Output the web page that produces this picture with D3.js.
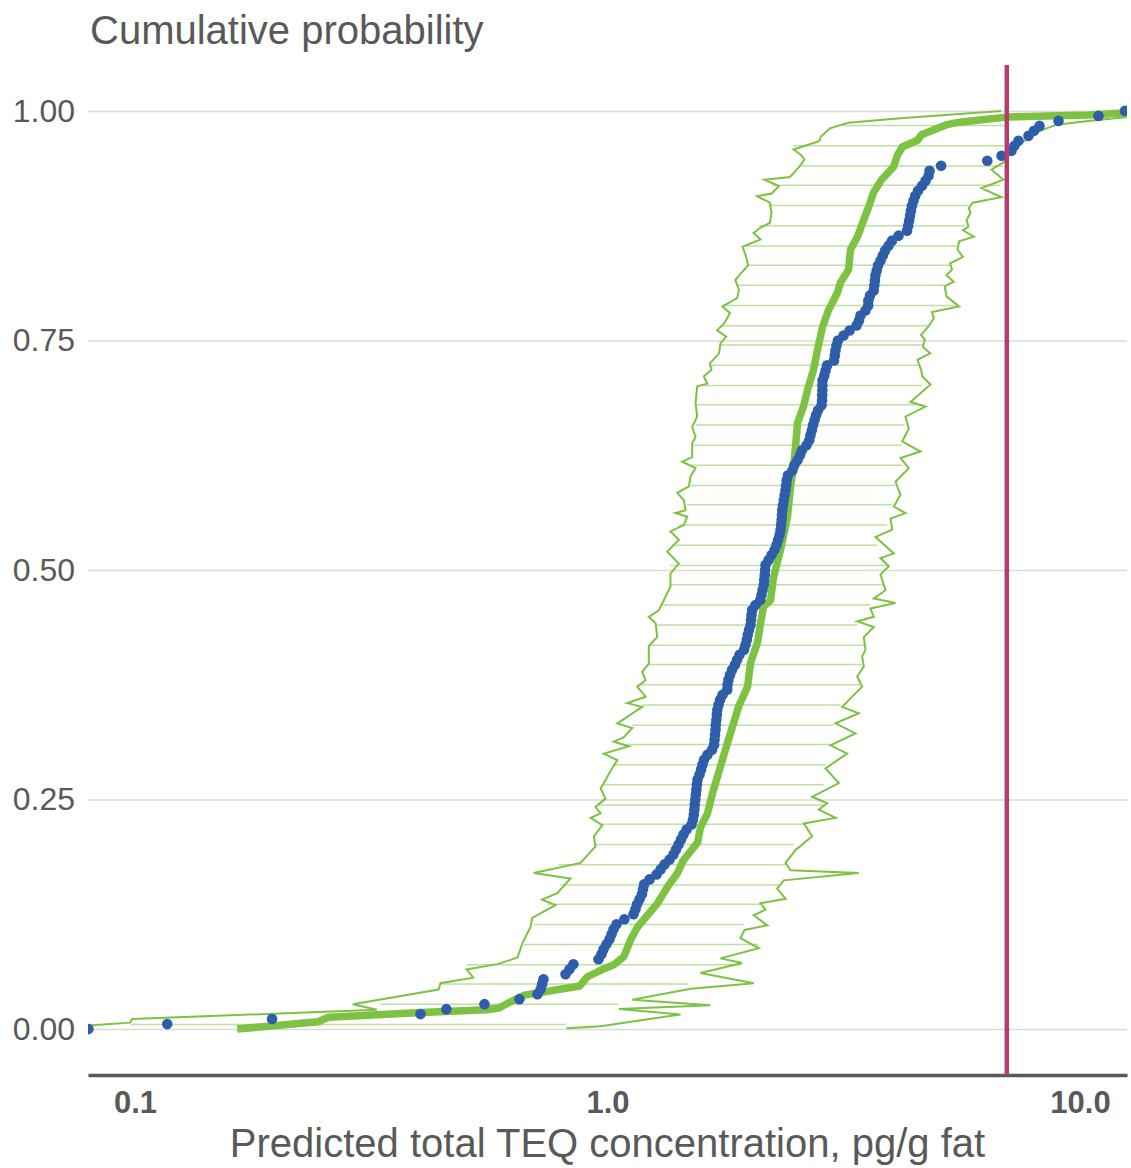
<!DOCTYPE html>
<html>
<head>
<meta charset="utf-8">
<script src="https://cdn.jsdelivr.net/npm/d3@7"></script>
<style>
  body { margin: 0; background: #fff; }
  svg { display: block; font-family: "Liberation Sans", Arial, sans-serif; }
</style>
</head>
<body>
<svg id="chart"></svg>
<script>
// observed concentrations, sorted (pg/g fat) - plotted as empirical cumulative probability
const observed = [
  0.0797, 0.117, 0.195, 0.402, 0.456, 0.549, 0.651, 0.711, 0.722, 0.727,
  0.732, 0.815, 0.831, 0.847, 0.957, 0.971, 0.981, 0.995, 1.010, 1.020,
  1.030, 1.045, 1.086, 1.135, 1.146, 1.155, 1.169, 1.183, 1.189, 1.195,
  1.227, 1.270, 1.295, 1.320, 1.353, 1.379, 1.396, 1.414, 1.431, 1.448,
  1.470, 1.506, 1.517, 1.523, 1.527, 1.530, 1.534, 1.538, 1.542, 1.546,
  1.551, 1.566, 1.578, 1.589, 1.601, 1.628, 1.664, 1.681, 1.685, 1.689,
  1.693, 1.695, 1.700, 1.704, 1.708, 1.718, 1.731, 1.752, 1.792, 1.795,
  1.803, 1.817, 1.835, 1.861, 1.880, 1.903, 1.945, 1.959, 1.972, 1.981,
  1.993, 2.008, 2.013, 2.018, 2.024, 2.057, 2.105, 2.118, 2.129, 2.142,
  2.146, 2.152, 2.156, 2.160, 2.192, 2.224, 2.257, 2.279, 2.296, 2.313,
  2.324, 2.330, 2.336, 2.340, 2.344, 2.352, 2.361, 2.371, 2.381, 2.388,
  2.395, 2.410, 2.463, 2.485, 2.524, 2.555, 2.580, 2.638, 2.673, 2.689,
  2.707, 2.722, 2.742, 2.763, 2.790, 2.838, 2.845, 2.847, 2.849, 2.850,
  2.851, 2.876, 2.894, 2.915, 3.015, 3.027, 3.037, 3.052, 3.074, 3.159,
  3.253, 3.365, 3.406, 3.431, 3.516, 3.562, 3.565, 3.594, 3.659, 3.670,
  3.681, 3.690, 3.713, 3.737, 3.783, 3.825, 3.867, 3.933, 4.000, 4.130,
  4.305, 4.330, 4.349, 4.368, 4.387, 4.408, 4.443, 4.480, 4.541, 4.631,
  4.711, 4.781, 4.804, 5.082, 6.365, 6.823, 7.161, 7.267, 7.410, 7.780,
  7.991, 8.209, 9.005, 10.94, 12.45
];

// predicted median curve [concentration, cumulative probability]
const medianCurve = [
  [0.1645, 0.000], [0.244, 0.008], [0.257, 0.013], [0.404, 0.018], [0.555, 0.021],
  [0.589, 0.023], [0.625, 0.030], [0.667, 0.037], [0.874, 0.047], [0.907, 0.057],
  [0.967, 0.064], [1.031, 0.070], [1.083, 0.079], [1.119, 0.097], [1.157, 0.111],
  [1.215, 0.124], [1.276, 0.137], [1.340, 0.155], [1.407, 0.170], [1.448, 0.184],
  [1.551, 0.203], [1.574, 0.220], [1.628, 0.235], [1.668, 0.257], [1.718, 0.279],
  [1.795, 0.312], [1.848, 0.333], [1.894, 0.351], [1.979, 0.373], [2.008, 0.399],
  [2.077, 0.421], [2.108, 0.442], [2.139, 0.460], [2.213, 0.467], [2.246, 0.492],
  [2.324, 0.522], [2.404, 0.558], [2.439, 0.590], [2.475, 0.612], [2.500, 0.634],
  [2.524, 0.660], [2.599, 0.678], [2.650, 0.696], [2.729, 0.718], [2.783, 0.740],
  [2.852, 0.765], [2.936, 0.783], [3.067, 0.802], [3.112, 0.813], [3.237, 0.827],
  [3.268, 0.849], [3.382, 0.863], [3.465, 0.878], [3.568, 0.895], [3.656, 0.911],
  [3.801, 0.925], [4.031, 0.939], [4.110, 0.952], [4.211, 0.961], [4.531, 0.968],
  [4.620, 0.974], [5.219, 0.985], [5.614, 0.988], [7.058, 0.9935], [10.42, 0.9956],
  [12.67, 0.998]
];

// lower prediction bound
const lowerBound = [
  [6.81, 1.000], [4.17, 0.992], [3.232, 0.987], [2.957, 0.981], [2.829, 0.972],
  [2.804, 0.967], [2.477, 0.958], [2.566, 0.952], [2.612, 0.947], [2.544, 0.939],
  [2.434, 0.928], [2.149, 0.925], [2.306, 0.918], [2.226, 0.910], [2.074, 0.907],
  [2.206, 0.900], [2.224, 0.889], [2.206, 0.878], [2.108, 0.873], [2.037, 0.867],
  [2.108, 0.860], [1.931, 0.852], [1.966, 0.841], [1.984, 0.832], [1.864, 0.816],
  [1.898, 0.805], [1.881, 0.796], [1.751, 0.787], [1.816, 0.780], [1.769, 0.769],
  [1.706, 0.761], [1.784, 0.754], [1.735, 0.747], [1.722, 0.736], [1.647, 0.725],
  [1.660, 0.718], [1.599, 0.711], [1.626, 0.703], [1.548, 0.700], [1.536, 0.682],
  [1.548, 0.667], [1.511, 0.656], [1.536, 0.645], [1.511, 0.638], [1.511, 0.623],
  [1.439, 0.618], [1.536, 0.611], [1.499, 0.602], [1.487, 0.591], [1.405, 0.584],
  [1.451, 0.576], [1.463, 0.565], [1.393, 0.562], [1.475, 0.558], [1.451, 0.549],
  [1.359, 0.542], [1.416, 0.533], [1.338, 0.520], [1.416, 0.507], [1.359, 0.496],
  [1.359, 0.482], [1.316, 0.467], [1.284, 0.456], [1.223, 0.449], [1.264, 0.442],
  [1.274, 0.427], [1.223, 0.417], [1.223, 0.398], [1.184, 0.389], [1.204, 0.380],
  [1.156, 0.373], [1.204, 0.362], [1.101, 0.355], [1.184, 0.351], [1.049, 0.333],
  [1.128, 0.328], [1.083, 0.318], [1.031, 0.313], [1.110, 0.308], [0.982, 0.300],
  [1.049, 0.293], [1.023, 0.284], [0.990, 0.271], [0.967, 0.262], [0.990, 0.251],
  [0.943, 0.242], [0.967, 0.235], [0.921, 0.230], [0.975, 0.222], [0.936, 0.210],
  [0.943, 0.199], [0.877, 0.181], [0.698, 0.170], [0.835, 0.164], [0.783, 0.148],
  [0.727, 0.141], [0.776, 0.135], [0.693, 0.121], [0.687, 0.111], [0.661, 0.094],
  [0.645, 0.078], [0.588, 0.071], [0.503, 0.065], [0.520, 0.056], [0.443, 0.050],
  [0.439, 0.043], [0.289, 0.027], [0.325, 0.021], [0.0986, 0.011], [0.0977, 0.007],
  [0.075, 0.003]
];

// upper prediction bound
const upperBound = [
  [12.9, 0.994], [10.42, 0.989], [8.917, 0.985], [8.209, 0.978], [7.302, 0.961],
  [7.126, 0.955], [6.887, 0.944], [6.496, 0.936], [6.887, 0.925], [6.187, 0.916],
  [6.820, 0.906], [5.921, 0.900], [5.817, 0.894], [5.864, 0.889], [5.754, 0.881],
  [5.806, 0.874], [5.654, 0.870], [5.962, 0.863], [5.549, 0.858], [5.503, 0.849],
  [5.654, 0.841], [5.311, 0.834], [5.359, 0.827], [5.217, 0.821], [5.406, 0.814],
  [5.172, 0.809], [5.217, 0.798], [5.549, 0.787], [4.861, 0.781], [4.904, 0.774],
  [4.775, 0.765], [4.609, 0.756], [4.692, 0.751], [4.650, 0.743], [4.818, 0.736],
  [4.529, 0.729], [4.609, 0.718], [4.634, 0.711], [4.826, 0.702], [4.377, 0.683],
  [4.710, 0.678], [4.272, 0.667], [4.342, 0.654], [4.204, 0.640], [4.596, 0.629],
  [4.169, 0.622], [4.342, 0.611], [4.069, 0.596], [4.169, 0.582], [4.036, 0.569],
  [4.272, 0.562], [3.971, 0.556], [4.004, 0.544], [3.691, 0.536], [4.036, 0.518],
  [3.782, 0.513], [3.939, 0.504], [3.782, 0.495], [3.876, 0.478], [3.661, 0.469],
  [4.069, 0.464], [3.602, 0.458], [3.661, 0.449], [3.377, 0.444], [3.661, 0.438],
  [3.487, 0.427], [3.516, 0.413], [3.459, 0.406], [3.487, 0.395], [3.377, 0.384],
  [3.459, 0.373], [3.138, 0.351], [3.403, 0.344], [3.038, 0.333], [3.348, 0.322],
  [2.964, 0.309], [3.216, 0.300], [2.893, 0.284], [3.087, 0.268], [2.711, 0.253],
  [2.917, 0.246], [2.801, 0.239], [3.038, 0.230], [2.603, 0.224], [2.711, 0.210],
  [2.500, 0.195], [2.381, 0.181], [2.439, 0.173], [3.403, 0.170], [2.361, 0.162],
  [2.287, 0.153], [2.381, 0.142], [2.108, 0.137], [2.160, 0.130], [2.040, 0.124],
  [2.178, 0.113], [1.950, 0.108], [1.912, 0.099], [2.091, 0.088], [1.734, 0.077],
  [1.928, 0.072], [1.573, 0.061], [2.040, 0.050], [1.499, 0.044], [1.128, 0.032],
  [1.652, 0.026], [1.057, 0.022], [1.427, 0.016], [0.967, 0.003], [0.819, 0.001]
];

// interval rungs: probability level, low end, high end
const rungP = [0.005, 0.027, 0.049, 0.070, 0.092, 0.114, 0.136, 0.157, 0.179, 0.201,
  0.223, 0.244, 0.266, 0.288, 0.310, 0.331, 0.353, 0.375, 0.397, 0.418,
  0.440, 0.462, 0.484, 0.505, 0.527, 0.549, 0.571, 0.592, 0.614, 0.636,
  0.658, 0.680, 0.701, 0.723, 0.745, 0.766, 0.788, 0.810, 0.832, 0.853,
  0.875, 0.897, 0.919, 0.940, 0.962, 0.984];
const rungLo = [0.098, 0.331, 0.443, 0.503, 0.664, 0.697, 0.745, 0.795, 0.788, 0.936,
  0.967, 0.951, 0.982, 1.031, 1.092, 1.128, 1.184, 1.156, 1.214, 1.233,
  1.264, 1.295, 1.348, 1.359, 1.371, 1.416, 1.475, 1.499, 1.499, 1.523,
  1.536, 1.548, 1.599, 1.647, 1.722, 1.735, 1.769, 1.881, 1.984, 1.950,
  2.092, 2.188, 2.224, 2.544, 2.475, 3.150];
const rungHi = [0.815, 1.055, 1.484, 1.912, 2.087, 1.940, 2.108, 2.305, 2.381, 2.479,
  2.603, 2.869, 2.869, 2.893, 2.964, 3.013, 3.112, 3.431, 3.459, 3.516,
  3.377, 3.602, 3.844, 3.939, 3.722, 3.908, 4.004, 4.069, 4.204, 4.204,
  4.237, 4.634, 4.634, 4.564, 4.650, 4.775, 5.503, 5.172, 5.311, 5.503,
  5.704, 5.817, 6.787, 6.870, 7.181, 7.057];

const xTicks = [0.1, 1, 10];
const yTicks = [0, 0.25, 0.5, 0.75, 1];
const threshold = 7.0;

const width = 1131;
const height = 1168;
const plotLeft = 88, plotRight = 1127, plotTop = 65, plotBottom = 1075;
const green = '#7dc242';
const blue = '#2e5eaa';
const grey = '#595959';

const svg = d3.select('#chart')
  .attr('width', width)
  .attr('height', height);

const x = d3.scaleLog()
  .domain([0.07953, 12.574])
  .range([plotLeft, plotRight]);

const y = d3.scaleLinear()
  .domain([-0.05, 1.05])
  .range([plotBottom, plotTop]);

svg.append('defs').append('clipPath')
  .attr('id', 'plot-clip')
  .append('rect')
  .attr('x', plotLeft)
  .attr('y', plotTop)
  .attr('width', plotRight - plotLeft)
  .attr('height', plotBottom - plotTop);

// gridlines + y labels
svg.append('g')
  .attr('transform', `translate(${plotLeft}, 0)`)
  .call(d3.axisLeft(y)
    .tickValues(yTicks)
    .tickFormat(d3.format('.2f'))
    .tickSize(-(plotRight - plotLeft))
    .tickPadding(13))
  .call(g => g.attr('font-family', null).attr('font-size', null))
  .call(g => g.select('.domain').remove())
  .call(g => g.selectAll('.tick line').attr('stroke', '#dadada').attr('stroke-width', 1.5))
  .call(g => g.selectAll('.tick text').attr('fill', grey).attr('font-size', 32));

// x axis
svg.append('g')
  .attr('transform', `translate(0, ${plotBottom})`)
  .call(d3.axisBottom(x)
    .tickValues(xTicks)
    .tickFormat(d3.format('.1f'))
    .tickSize(0)
    .tickSizeOuter(0)
    .tickPadding(16))
  .call(g => g.attr('font-family', null).attr('font-size', null))
  .call(g => g.select('.domain').attr('stroke', grey).attr('stroke-width', 3.5))
  .call(g => g.selectAll('.tick text')
    .attr('fill', grey)
    .attr('font-size', 31)
    .attr('font-weight', 'bold'));

const plot = svg.append('g').attr('clip-path', 'url(#plot-clip)');

// horizontal rungs between the bounds
const rungs = rungP.map((p, i) => ({p: p, lo: rungLo[i], hi: rungHi[i]}));
plot.append('g')
  .selectAll('line')
  .data(rungs)
  .enter()
  .append('line')
  .attr('x1', d => x(d.lo))
  .attr('x2', d => x(d.hi))
  .attr('y1', d => y(d.p))
  .attr('y2', d => y(d.p))
  .attr('stroke', green)
  .attr('stroke-opacity', 0.5)
  .attr('stroke-width', 1.5);

const line = d3.line()
  .x(d => x(d[0]))
  .y(d => y(d[1]));

plot.append('path')
  .datum(lowerBound)
  .attr('d', line)
  .attr('fill', 'none')
  .attr('stroke', green)
  .attr('stroke-width', 2);

plot.append('path')
  .datum(upperBound)
  .attr('d', line)
  .attr('fill', 'none')
  .attr('stroke', green)
  .attr('stroke-width', 2);

plot.append('path')
  .datum(medianCurve)
  .attr('d', line)
  .attr('fill', 'none')
  .attr('stroke', green)
  .attr('stroke-width', 7.5)
  .attr('stroke-linejoin', 'round');

// observed points
const n = observed.length;
plot.append('g')
  .selectAll('circle')
  .data(observed)
  .enter()
  .append('circle')
  .attr('cx', d => x(d))
  .attr('cy', (d, i) => y(i / (n - 1)))
  .attr('r', 5.3)
  .attr('fill', blue);

// threshold line
plot.append('line')
  .attr('x1', x(threshold))
  .attr('x2', x(threshold))
  .attr('y1', plotTop)
  .attr('y2', plotBottom)
  .attr('stroke', '#b43c6e')
  .attr('stroke-width', 4.5);

// titles
svg.append('text')
  .attr('x', 90)
  .attr('y', 44)
  .attr('fill', grey)
  .attr('font-size', 40)
  .text('Cumulative probability');

svg.append('text')
  .attr('x', (plotLeft + plotRight) / 2)
  .attr('y', 1157)
  .attr('text-anchor', 'middle')
  .attr('fill', grey)
  .attr('font-size', 40)
  .text('Predicted total TEQ concentration, pg/g fat');
</script>
</body>
</html>
